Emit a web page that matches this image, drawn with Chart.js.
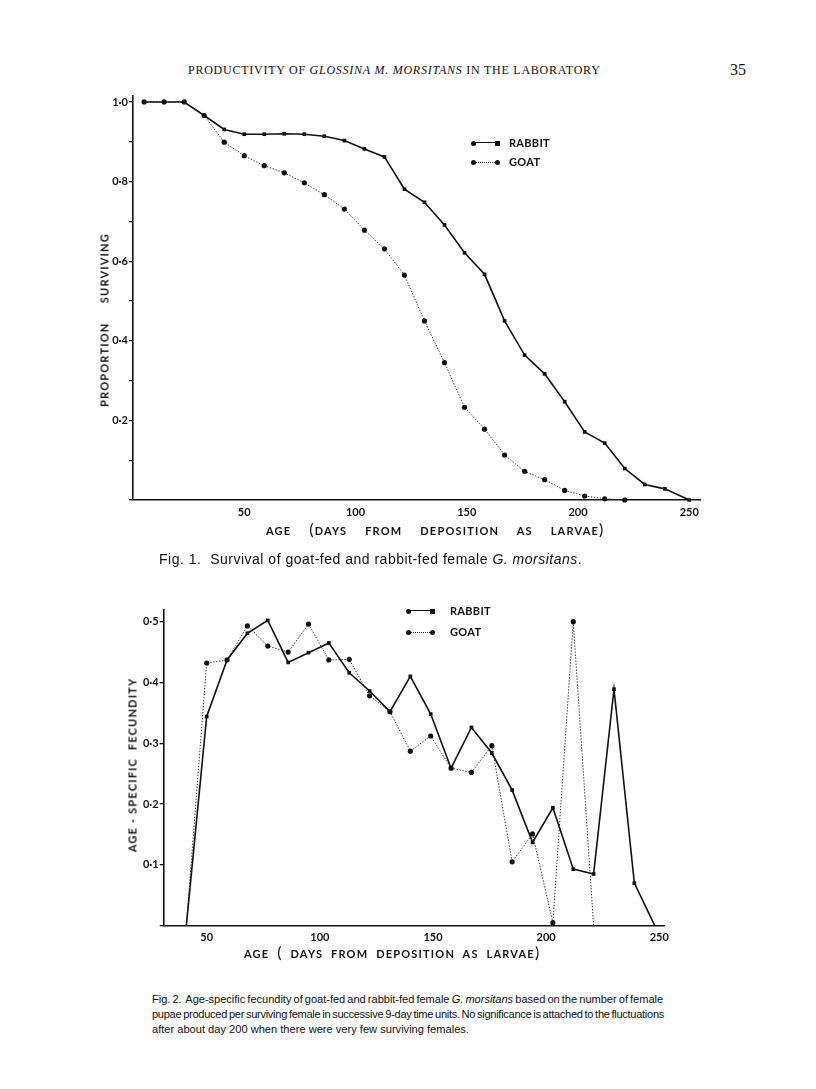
<!DOCTYPE html>
<html>
<head>
<meta charset="utf-8">
<script src="https://cdn.jsdelivr.net/npm/chart.js@4.4.1/dist/chart.umd.min.js"></script>
<style>
    body { margin: 0; background: #fff; width: 816px; height: 1089px; position: relative; overflow: hidden; }
    canvas { position: absolute; left: 0; }
    .t { position: absolute; white-space: nowrap; color: #111; }
    .head { font-family: 'Liberation Serif', serif; font-size: 12px; letter-spacing: 0.75px; }
    .ax { font-family: Lato, 'DejaVu Sans', sans-serif; font-weight: 700; font-size: 11px; letter-spacing: 1.2px; }
    .rot { transform: translate(-50%, -50%) rotate(-90deg); }
    .cap { font-family: 'Liberation Sans', Arial, sans-serif; color: #111; }
    .par { font-size: 16px; font-weight: 400; }
    .leg { font-family: Lato, 'DejaVu Sans', sans-serif; font-weight: 700; font-size: 11px; letter-spacing: 0.3px; }
    .ln { position: absolute; height: 0; }
    .mk { position: absolute; background: #111; }
</style>
</head>
<body>

<div class="t head" style="left:188px; top:63px;">PRODUCTIVITY OF <i>GLOSSINA M. MORSITANS</i> IN THE LABORATORY</div>
<div class="t" style="left:730px; top:61px; font-family:'Liberation Serif',serif; font-size:16px;">35</div>

<canvas id="fig1" width="816" height="540" style="top:0px;"></canvas>
<div class="t ax rot" style="left:104px; top:320px;">PROPORTION&nbsp;&nbsp;&nbsp;&nbsp;&nbsp;SURVIVING</div>
<div class="t ax" style="left:266px; top:519px; word-spacing:14px;">AGE <span class="par">(</span>DAYS FROM DEPOSITION AS LARVAE<span class="par">)</span></div>
<div class="t cap" style="left:159px; top:551px; font-size:14px; letter-spacing:0.5px;">Fig. 1.&nbsp; Survival of goat-fed and rabbit-fed female <i>G. morsitans</i>.</div>

<canvas id="fig2" width="816" height="376" style="top:580px;"></canvas>
<div class="t ax rot" style="left:132px; top:765px;">AGE - SPECIFIC&nbsp; FECUNDITY</div>
<div class="t ax" style="left:244px; top:942px; word-spacing:4px;">AGE <span class="par">(</span> DAYS FROM DEPOSITION AS LARVAE<span class="par">)</span></div>
<div id="cap2"></div>

<div id="legends"></div>

<script>
// Fig. 1 - survival
const survDaysRabbit = [5, 14, 23, 32, 41, 50, 59, 68, 77, 86, 95, 104, 113, 122, 131, 140, 149, 158, 167, 176, 185, 194, 203, 212, 221, 230, 239, 250];
const survRabbit = [1.0, 1.0, 1.0, 0.966, 0.931, 0.919, 0.919, 0.92, 0.919, 0.914, 0.903, 0.882, 0.862, 0.781, 0.748, 0.691, 0.621, 0.567, 0.45, 0.364, 0.317, 0.247, 0.171, 0.143, 0.079, 0.039, 0.028, 0.0];
const survDaysGoat = [5, 14, 23, 32, 41, 50, 59, 68, 77, 86, 95, 104, 113, 122, 131, 140, 149, 158, 167, 176, 185, 194, 203, 212, 221];
const survGoat = [1.0, 1.0, 1.0, 0.966, 0.899, 0.865, 0.84, 0.822, 0.797, 0.767, 0.731, 0.678, 0.631, 0.565, 0.45, 0.345, 0.233, 0.178, 0.113, 0.072, 0.051, 0.024, 0.01, 0.003, 0.0];
const survXTicks = [50, 100, 150, 200, 250];
const survYTicks = [0, 0.1, 0.2, 0.3, 0.4, 0.5, 0.6, 0.7, 0.8, 0.9, 1.0];
const survYLabels = [0.2, 0.4, 0.6, 0.8, 1.0];

// Fig. 2 - age-specific fecundity
const fecDaysRabbit = [41, 50, 59, 68, 77, 86, 95, 104, 113, 122, 131, 140, 149, 158, 167, 176, 185, 194, 203, 212, 221, 230, 239, 248];
const fecRabbit = [0, 0.344, 0.437, 0.481, 0.502, 0.433, 0.449, 0.465, 0.416, 0.386, 0.352, 0.41, 0.348, 0.259, 0.326, 0.284, 0.223, 0.137, 0.194, 0.093, 0.085, 0.389, 0.07, 0];
const fecDaysGoat = [41, 50, 59, 68, 77, 86, 95, 104, 113, 122, 131, 140, 149, 158, 167, 176, 185, 194, 203, 212, 221];
const fecGoat = [0, 0.432, 0.437, 0.493, 0.46, 0.45, 0.496, 0.437, 0.438, 0.378, 0.352, 0.287, 0.312, 0.259, 0.252, 0.296, 0.105, 0.151, 0.005, 0.5, 0];
const fecXTicks = [50, 100, 150, 200, 250];
const fecYTicks = [0, 0.1, 0.2, 0.3, 0.4, 0.5];
const fecYLabels = [0.1, 0.2, 0.3, 0.4, 0.5];

const cap2Lines = [
    'Fig. 2.&nbsp; Age-specific fecundity of goat-fed and rabbit-fed female <i>G. morsitans</i> based on the number of female',
    'pupae produced per surviving female in successive 9-day time units. No significance is attached to the fluctuations',
    'after about day 200 when there were very few surviving females.'
];

const INK = '#111';
const tickFont = { family: 'Lato, "DejaVu Sans", sans-serif', weight: '700', size: 11 };

function pts(xs, ys) {
    return xs.map((x, i) => ({ x, y: ys[i] }));
}

function fmt(v) {
    return v.toFixed(1).replace('.', '\u00b7');
}

function rabbitSet(data, hideEnds) {
    return {
        label: 'RABBIT', data,
        borderColor: INK, borderWidth: 1.6,
        pointStyle: 'rect', pointRadius: c => (hideEnds && (c.dataIndex === 0 || c.dataIndex === data.length - 1)) ? 0 : 2.6,
        pointBackgroundColor: INK, pointBorderColor: INK, pointBorderWidth: 0,
        tension: 0
    };
}

function goatSet(data, hideEnds) {
    return {
        label: 'GOAT', data,
        borderColor: '#333', borderWidth: 1, borderDash: [1.4, 1.6],
        pointStyle: 'circle', pointRadius: c => (hideEnds && (c.dataIndex === 0 || c.dataIndex === data.length - 1)) ? 0 : 2.6,
        pointBackgroundColor: INK, pointBorderColor: INK, pointBorderWidth: 0,
        tension: 0
    };
}

function makeChart(id, cfg) {
    return new Chart(document.getElementById(id), {
        type: 'line',
        data: { datasets: cfg.datasets },
        options: {
            responsive: false,
            animation: false,
            devicePixelRatio: 1,
            clip: false,
            layout: { padding: cfg.padding },
            plugins: { legend: { display: false }, tooltip: { enabled: false } },
            scales: {
                x: {
                    type: 'linear', min: cfg.xMin, max: cfg.xMax,
                    afterBuildTicks: s => { s.ticks = cfg.xTicks.map(v => ({ value: v })); },
                    afterFit: s => { s.height = cfg.xHeight; },
                    ticks: { autoSkip: false, maxRotation: 0, color: INK, font: tickFont, padding: cfg.xPad },
                    grid: { display: false, drawTicks: false },
                    border: { display: true, color: INK, width: 1.6 }
                },
                y: {
                    min: 0, max: cfg.yMax,
                    afterBuildTicks: s => { s.ticks = cfg.yTicks.map(v => ({ value: v })); },
                    afterFit: s => { s.width = 33; },
                    ticks: {
                        autoSkip: false, color: INK, font: tickFont, padding: 1,
                        callback: v => cfg.yLabels.some(l => Math.abs(l - v) < 1e-6) ? fmt(v) : ''
                    },
                    grid: { display: true, drawOnChartArea: false, drawTicks: true, tickLength: 4, color: INK, lineWidth: 1.3 },
                    border: { display: true, color: INK, width: 1.6 }
                }
            }
        }
    });
}

makeChart('fig1', {
    datasets: [rabbitSet(pts(survDaysRabbit, survRabbit), false), goatSet(pts(survDaysGoat, survGoat), false)],
    padding: { left: 100, right: 115.6, top: 96, bottom: 0 },
    xMin: 0, xMax: 255, xTicks: survXTicks, xHeight: 40, xPad: 6,
    yMax: 1.015, yTicks: survYTicks, yLabels: survYLabels
});

makeChart('fig2', {
    datasets: [rabbitSet(pts(fecDaysRabbit, fecRabbit), true), goatSet(pts(fecDaysGoat, fecGoat), true)],
    padding: { left: 130.7, right: 151.1, top: 29.5, bottom: 0 },
    xMin: 31, xMax: 252.5, xTicks: fecXTicks, xHeight: 30.3, xPad: 5,
    yMax: 0.52, yTicks: fecYTicks, yLabels: fecYLabels
});

// fig 2 caption: first two lines fitted to the 512px block width
const capBox = document.getElementById('cap2');
cap2Lines.forEach((html, i) => {
    const d = document.createElement('div');
    d.className = 't cap';
    d.style.cssText = `left:152px; top:${992 + i * 15}px; font-size:11.1px; line-height:15px;`;
    d.innerHTML = html;
    capBox.appendChild(d);
    if (i < cap2Lines.length - 1) {
        const text = d.textContent;
        const gaps = text.split(' ').length - 1;
        let w = d.getBoundingClientRect().width;
        // squeeze letters a little if the line is too long, then spread the words
        const minGap = 2.2;
        const need = 512 - w;
        if (need < gaps * (minGap - 3.1)) {
            const ls = (need - gaps * (minGap - 3.1)) / text.length;
            d.style.letterSpacing = ls + 'px';
            w = d.getBoundingClientRect().width;
        }
        d.style.wordSpacing = ((512 - w) / gaps) + 'px';
    }
});

// legend samples, drawn as plain html
function legendRow(x, y, label, dotted, textX) {
    const box = document.getElementById('legends');
    const ln = document.createElement('div');
    ln.className = 'ln';
    ln.style.cssText = `left:${x}px; top:${y - (dotted ? 0.5 : 0.8)}px; width:24px; border-top:${dotted ? '1px dotted #333' : '1.6px solid #111'};`;
    box.appendChild(ln);
    [x, x + 24].forEach((cx, i) => {
        const m = document.createElement('div');
        m.className = 'mk';
        const sq = !dotted && i === 1;
        m.style.cssText = `left:${cx - 2.5}px; top:${y - 2.5}px; width:5px; height:5px; border-radius:${sq ? '0' : '50%'};`;
        box.appendChild(m);
    });
    const t = document.createElement('div');
    t.className = 't leg';
    t.style.cssText = `left:${textX}px; top:${y - 7}px; line-height:14px;`;
    t.textContent = label;
    box.appendChild(t);
}

legendRow(473, 143, 'RABBIT', false, 509);
legendRow(473, 162, 'GOAT', true, 509);
legendRow(408, 611, 'RABBIT', false, 450);
legendRow(408, 632, 'GOAT', true, 450);
</script>
</body>
</html>
